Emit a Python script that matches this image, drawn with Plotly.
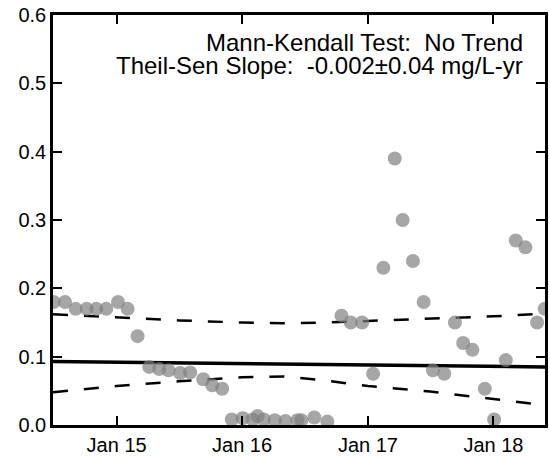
import plotly.graph_objects as go

# Observations
dates = ["2014-07-02", "2014-08-04", "2014-09-04", "2014-10-06", "2014-11-03", "2014-12-02",
         "2015-01-05", "2015-02-02", "2015-03-03", "2015-04-06", "2015-05-05", "2015-06-01",
         "2015-07-05", "2015-08-03", "2015-09-10", "2015-10-06", "2015-11-04", "2015-12-02",
         "2016-01-03", "2016-02-01", "2016-02-15", "2016-03-04", "2016-04-05", "2016-05-06",
         "2016-06-10", "2016-06-21", "2016-07-29", "2016-09-05", "2016-10-16", "2016-11-12",
         "2016-12-15", "2017-01-16", "2017-02-15", "2017-03-20", "2017-04-12", "2017-05-12",
         "2017-06-12", "2017-07-09", "2017-08-11", "2017-09-11", "2017-10-05", "2017-11-01",
         "2017-12-07", "2018-01-03", "2018-02-06", "2018-03-07", "2018-04-04", "2018-05-08",
         "2018-05-30"]
values = [0.18, 0.18, 0.17, 0.17, 0.17, 0.17,
          0.18, 0.17, 0.13, 0.085, 0.082, 0.080,
          0.076, 0.077, 0.067, 0.058, 0.053, 0.008,
          0.010, 0.008, 0.013, 0.008, 0.007, 0.006,
          0.007, 0.007, 0.011, 0.005, 0.16, 0.15,
          0.15, 0.075, 0.23, 0.39, 0.30, 0.24,
          0.18, 0.08, 0.075, 0.15, 0.12, 0.11,
          0.053, 0.008, 0.095, 0.27, 0.26, 0.15,
          0.17]

# Theil-Sen trend line
trend_dates = ["2014-06-30", "2018-05-31"]
trend_values = [0.0928, 0.085]

# Confidence band curves
band_dates = ["2014-06-30", "2015-01-01", "2015-07-01", "2016-01-01", "2016-05-01",
              "2016-09-01", "2017-01-01", "2017-07-01", "2018-01-01", "2018-05-31"]
upper_values = [0.162, 0.157, 0.153, 0.150, 0.149, 0.150, 0.152, 0.155, 0.159, 0.163]
lower_values = [0.048, 0.057, 0.064, 0.070, 0.071, 0.065, 0.057, 0.049, 0.038, 0.029]

x_range = ["2014-06-30", "2018-05-31"]
x_tickvals = ["2015-01-01", "2016-01-01", "2017-01-01", "2018-01-01"]
x_ticktext = ["Jan 15", "Jan 16", "Jan 17", "Jan 18"]
y_tickvals = [0.0, 0.1, 0.2, 0.3, 0.4, 0.5, 0.6]

annot_lines = ["Mann-Kendall Test:\u00a0\u00a0No Trend",
               "Theil-Sen Slope:\u00a0\u00a0-0.002\u00b10.04 mg/L-yr"]

FONT = "Liberation Sans, Arial, sans-serif"

fig = go.Figure()
fig.add_trace(go.Scatter(x=band_dates, y=upper_values, mode="lines",
                         line=dict(color="black", width=2.5, dash="15px,16px"),
                         hoverinfo="skip", showlegend=False))
fig.add_trace(go.Scatter(x=band_dates, y=lower_values, mode="lines",
                         line=dict(color="black", width=2.5, dash="15px,16px"),
                         hoverinfo="skip", showlegend=False))
fig.add_trace(go.Scatter(x=trend_dates, y=trend_values, mode="lines",
                         line=dict(color="black", width=3.5),
                         showlegend=False))
fig.add_trace(go.Scatter(x=dates, y=values, mode="markers",
                         marker=dict(size=14, color="rgba(128,128,128,0.7)", line=dict(width=0)),
                         showlegend=False))

for i, t in enumerate(annot_lines):
    fig.add_annotation(text=t, xref="paper", yref="paper",
                       x=0.96, y=[0.932, 0.876][i], xanchor="right", yanchor="middle",
                       showarrow=False, font=dict(family=FONT, size=24, color="black"))

axis_common = dict(showgrid=False, zeroline=False, showline=True, linecolor="black",
                   linewidth=2.5, mirror="allticks", ticks="inside", ticklen=9,
                   tickwidth=1.5, tickcolor="black",
                   tickfont=dict(family=FONT, size=20, color="black"))
fig.update_xaxes(range=x_range, tickmode="array", tickvals=x_tickvals,
                 ticktext=x_ticktext, **axis_common)
fig.update_yaxes(range=[0, 0.6], tickmode="array", tickvals=y_tickvals,
                 tickformat=".1f", **axis_common)

fig.update_layout(width=550, height=458, margin=dict(l=53, r=2, t=15, b=33),
                  paper_bgcolor="white", plot_bgcolor="white",
                  font=dict(family=FONT, color="black"))

fig.write_html("out.html", config={"displayModeBar": False},
               post_script="document.body.style.margin='0px';document.body.style.overflow='hidden';")
